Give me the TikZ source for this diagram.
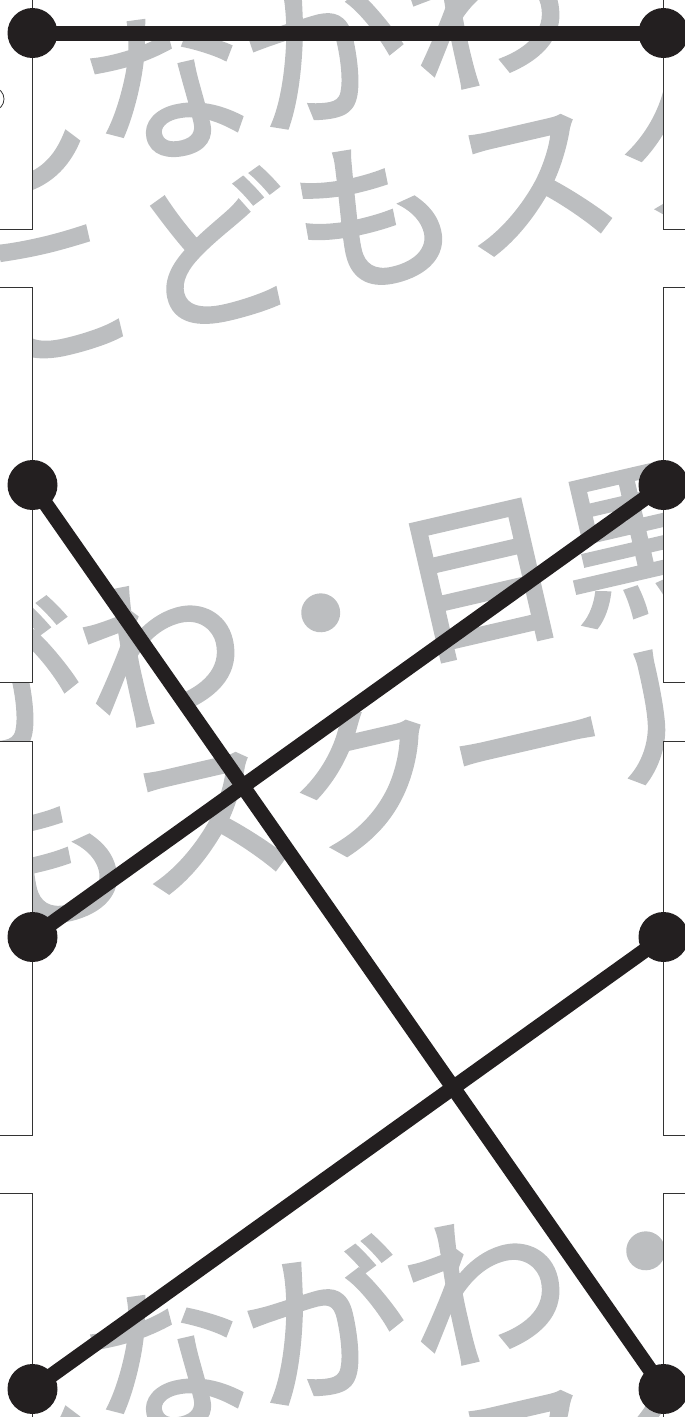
\documentclass[tikz,border=0pt]{standalone}
\usepackage{fontspec}
\newfontfamily\jpfont[FakeBold=2.5]{Noto Sans CJK JP}
\definecolor{ink}{HTML}{231F20}
\definecolor{wm}{HTML}{BCBEC0}
\begin{document}
\begin{tikzpicture}[x=1pt,y=-1pt,
  wmtext/.style={text=wm, font=\jpfont\fontsize{164}{164}\selectfont, rotate=13,
    inner sep=0pt, text height=144pt, text depth=20pt, anchor=center},
  sidebox/.style={draw=black!80, line width=0.8pt, fill=white},
  link/.style={draw=ink, line width=15pt},
  pin/.style={circle, fill=ink, minimum size=50pt, inner sep=0pt}]
\useasboundingbox (0,0) rectangle (685,1417);
% watermark text
\node[wmtext] (a1) at (486,12) {しながわ・目黒};
\node[wmtext] (a2) at (533,178) {こどもスクール};
\node[wmtext] (c1) at (161,650) {しながわ・目黒};
\node[wmtext] (c2) at (208,816) {こどもスクール};
\node[wmtext] (e1) at (486,1288) {しながわ・目黒};
\node[wmtext] (e2) at (533,1454) {こどもスクール};
% side boxes
\path[sidebox] (-3,-3) rectangle (32.5,229);
\path[sidebox] (-3,287) rectangle (32.5,682);
\path[sidebox] (-3,741) rectangle (32.5,1135);
\path[sidebox] (-3,1193) rectangle (32.5,1420);
\path[sidebox] (663.5,-3) rectangle (690,229);
\path[sidebox] (663.5,287) rectangle (690,682);
\path[sidebox] (663.5,741) rectangle (690,1135);
\path[sidebox] (663.5,1193) rectangle (690,1420);
\draw[black!80, line width=0.8pt, fill=white] (-6,99) ellipse [x radius=10, y radius=11];
% pins
\node[pin] (L1) at (32.5,33) {};
\node[pin] (L2) at (32.5,485) {};
\node[pin] (L3) at (32.5,937) {};
\node[pin] (L4) at (32.5,1389) {};
\node[pin] (R1) at (663.5,33) {};
\node[pin] (R2) at (663.5,485) {};
\node[pin] (R3) at (663.5,937) {};
\node[pin] (R4) at (663.5,1389) {};
% links
\draw[link] (L1.center) -- (R1.center);
\draw[link] (L2.center) -- (R4.center);
\draw[link] (L3.center) -- (R2.center);
\draw[link] (L4.center) -- (R3.center);
\end{tikzpicture}
\end{document}
